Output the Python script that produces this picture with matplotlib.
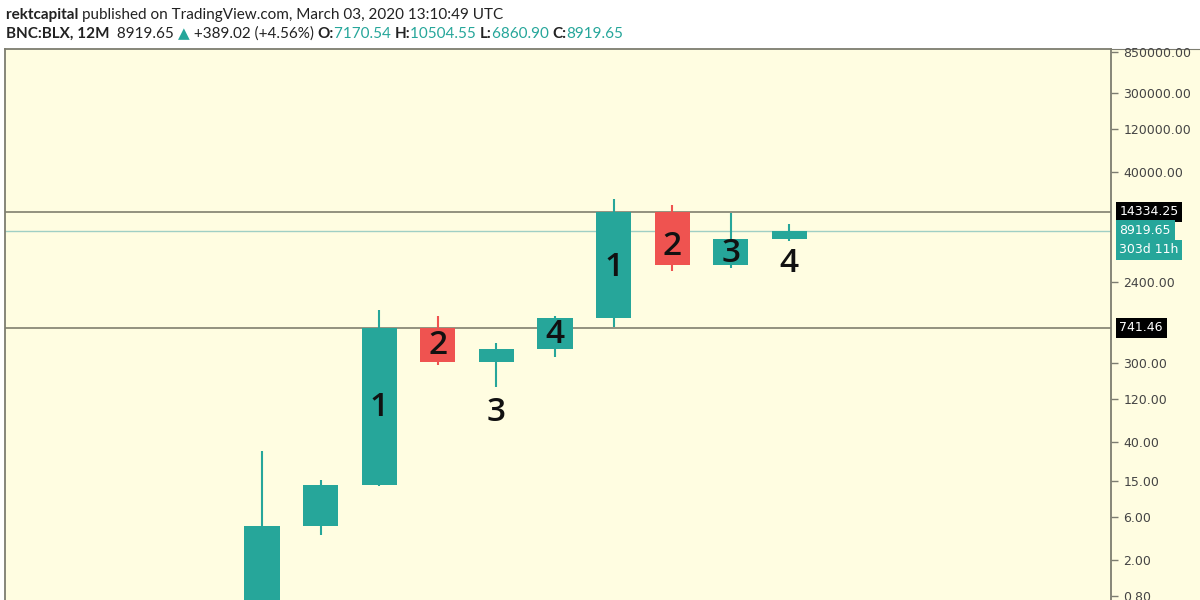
import matplotlib
matplotlib.use("Agg")
import matplotlib.pyplot as plt
import numpy as np

# ---- data (yearly candles, BNC:BLX) ----
years  = [2011, 2012, 2013, 2014, 2015, 2016, 2017, 2018, 2019, 2020]
opens  = [0.30, 4.70, 13.5, 741.46, 311, 434, 960, 14334.25, 3700, 7170.54]
highs  = [32.0, 15.4, 1175, 1007, 506, 1000, 19950, 17150, 13900, 10504.55]
lows   = [0.29, 3.8, 13.0, 288, 164, 353, 760, 3180, 3400, 6860.90]
closes = [4.70, 13.5, 741.46, 311, 434, 960, 14334.25, 3700, 7200, 8919.65]

count_labels = ["1", "2", "3", "4", "1", "2", "3", "4"]
count_years  = [2013, 2014, 2015, 2016, 2017, 2018, 2019, 2020]
count_values = [98, 470, 86, 620, 3500, 5900, 5000, 3800]

level_values = [14334.25, 741.46]
last_price = 8919.65
tick_values = [850000, 300000, 120000, 40000, 2400, 300, 120, 40, 15, 6, 2, 0.8]

UP = "#26a69a"
DOWN = "#ef5350"
BG = "#fffde1"

fig = plt.figure(figsize=(12, 6), dpi=100)
fig.patch.set_facecolor("white")

L, R, T = 5 / 1200, 1111 / 1200, 49 / 600
ax = fig.add_axes([L, 0, R - L, 1 - T])
ax.set_facecolor(BG)
ax.set_yscale("log")
ax.set_ylim(0.715, 918000)
ax.set_xlim(2006.614, 2025.488)

for y, o, h, l, c in zip(years, opens, highs, lows, closes):
    col = UP if c >= o else DOWN
    ax.vlines(y, l, h, color=col, lw=1.5, zorder=3)
    ax.bar(y, abs(c - o), bottom=min(o, c), width=0.6, color=col, zorder=4)

for v in level_values:
    ax.axhline(v, color="#80806e", lw=1.2, zorder=2)
ax.axhline(last_price, color="#9fcfc4", lw=1.0, zorder=2)

for lab, x, v in zip(count_labels, count_years, count_values):
    ax.text(x, v, lab, ha="center", va="center", fontsize=24,
            family="Open Sans", fontweight="semibold", color="#111111", zorder=6)

ax.set_xticks([])
ax.spines["bottom"].set_visible(False)
for s in ["left", "top", "right"]:
    ax.spines[s].set_color("#7d7d70")
    ax.spines[s].set_linewidth(1.3)

ax.yaxis.tick_right()
ax.set_yticks(tick_values)
ax.set_yticklabels([f"{v:.2f}" for v in tick_values])
ax.yaxis.set_minor_locator(matplotlib.ticker.NullLocator())
ax.tick_params(axis="y", direction="out", length=5, width=1, color="#7d7d70",
               labelsize=9, labelcolor="#444444", pad=4)

# price axis background
pax = fig.add_axes([R, 0, 1 - R, 1 - T])
pax.set_facecolor(BG)
pax.set_zorder(-1)
pax.set_xticks([]); pax.set_yticks([])
for s in pax.spines.values():
    s.set_visible(False)
pax.spines["top"].set_visible(True)
pax.spines["top"].set_color("#7d7d70")

# price labels
def plabel(v, text, fc, dy=0):
    ax.annotate(text, xy=(1.0, v), xycoords=("axes fraction", "data"),
                xytext=(6, dy), textcoords="offset points", va="center", ha="left",
                fontsize=9, color="white", zorder=10, annotation_clip=False,
                bbox=dict(boxstyle="square,pad=0.3", fc=fc, ec="none"))

plabel(14334.25, "14334.25", "#000000")
plabel(741.46, "741.46", "#000000")
plabel(last_price, "8919.65", UP)
plabel(last_price, "303d 11h", UP, dy=-14)

# header
renderer = fig.canvas.get_renderer()
def seq(x, y, parts):
    for txt, col, wt in parts:
        t = fig.text(x / 1200, 1 - y / 600, txt, color=col, fontweight=wt,
                     fontsize=11, family=["Lato", "DejaVu Sans"],
                     va="baseline", ha="left")
        bb = t.get_window_extent(renderer)
        x += bb.width

seq(6, 19, [("rektcapital ", "#222222", "bold"),
            ("published on TradingView.com, March 03, 2020 13:10:49 UTC", "#222222", "normal")])
seq(6, 38, [("BNC:BLX, 12M ", "#222222", "bold"),
            (" 8919.65 ", "#222222", "normal"),
            ("▲", UP, "normal"),
            (" +389.02 (+4.56%) ", "#222222", "normal"),
            ("O:", "#222222", "bold"), ("7170.54 ", UP, "normal"),
            ("H:", "#222222", "bold"), ("10504.55 ", UP, "normal"),
            ("L:", "#222222", "bold"), ("6860.90 ", UP, "normal"),
            ("C:", "#222222", "bold"), ("8919.65", UP, "normal")])

fig.savefig("out.png", dpi=100, facecolor="white")
